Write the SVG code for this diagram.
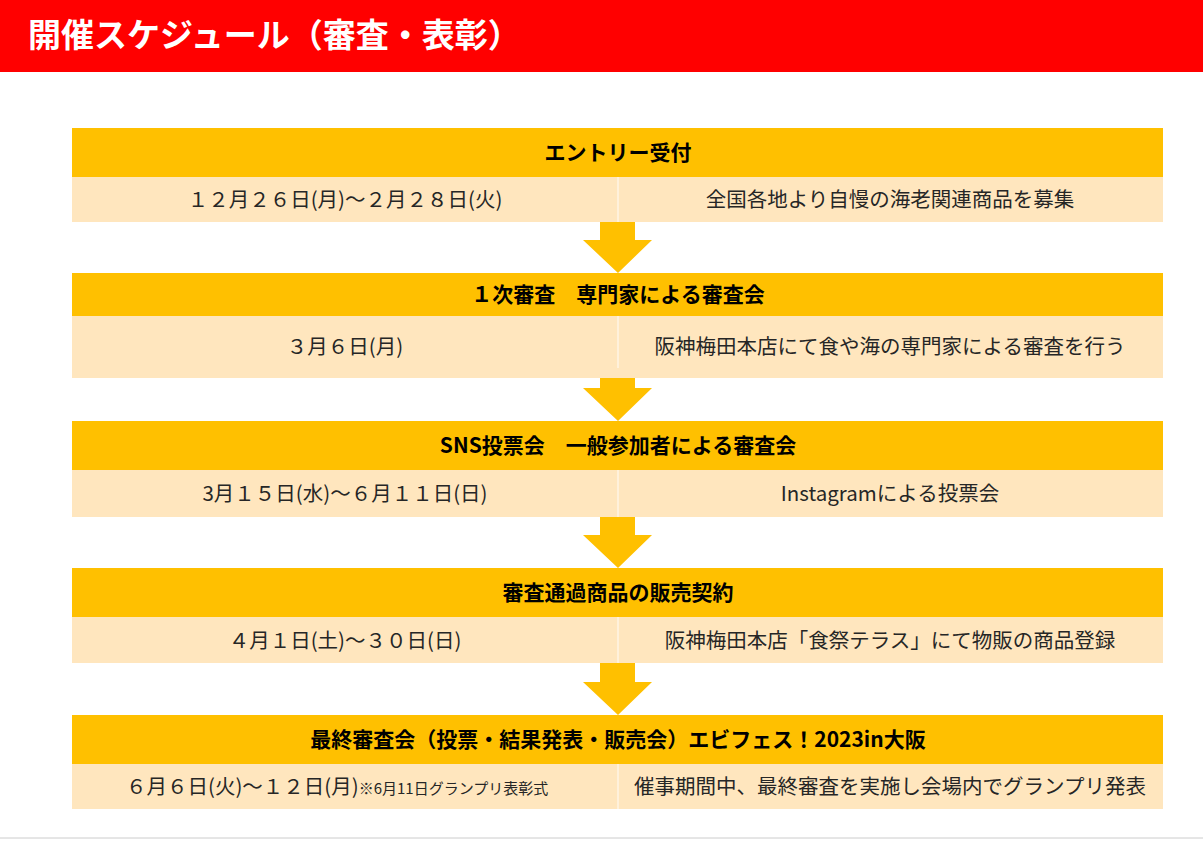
<svg xmlns="http://www.w3.org/2000/svg" width="1203" height="842" viewBox="0 0 1203 842">
<style>
text{font-family:"Noto Sans CJK JP","Noto Sans",sans-serif;fill:#262626}
.h{font-size:21px;font-weight:bold;text-anchor:middle;fill:#000}
.r{font-size:20.5px;text-anchor:middle}
.hd{fill:#FFC000}
.rw{fill:#FFE6BE}
.ar{fill:#FFC000}
</style>
<rect width="1203" height="842" fill="#fff"/>
<rect x="0" y="0" width="1203" height="72" fill="#FF0000"/>
<text x="28" y="47" style="font-size:33px;font-weight:bold;fill:#fff">開催スケジュール（審査・表彰）</text>
<line x1="0" y1="838" x2="1203" y2="838" stroke="#ccc" stroke-width="1"/>
<g id="connectors">
<polygon class="ar" points="600,222 635,222 635,240 652,240 618,273 583,240 600,240"/>
<polygon class="ar" points="600,370 635,370 635,388 652,388 618,421 583,388 600,388"/>
<polygon class="ar" points="600,517 635,517 635,535 652,535 618,568 583,535 600,535"/>
<polygon class="ar" points="600,663 635,663 635,682 652,682 618,715 583,682 600,682"/>
</g>
<g id="n1">
<rect class="hd" x="72" y="128" width="1091" height="49"/>
<rect class="rw" x="72" y="177" width="1091" height="45"/>
<line x1="618" y1="177" x2="618" y2="222" stroke="#fff" stroke-width="1.5" opacity="0.6"/>
<text class="h" x="618" y="160">エントリー受付</text>
<text class="r" x="345" y="207">１２月２６日(月)～２月２８日(火)</text>
<text class="r" x="890" y="207">全国各地より自慢の海老関連商品を募集</text>
</g>
<g id="n2">
<rect class="hd" x="72" y="273" width="1091" height="43"/>
<rect class="rw" x="72" y="316" width="1091" height="62"/>
<line x1="618" y1="316" x2="618" y2="368" stroke="#fff" stroke-width="1.5" opacity="0.6"/>
<text class="h" x="618" y="302">１次審査　専門家による審査会</text>
<text class="r" x="345" y="354">３月６日(月)</text>
<text class="r" x="890" y="354">阪神梅田本店にて食や海の専門家による審査を行う</text>
</g>
<g id="n3">
<rect class="hd" x="72" y="421" width="1091" height="49"/>
<rect class="rw" x="72" y="470" width="1091" height="47"/>
<line x1="618" y1="470" x2="618" y2="517" stroke="#fff" stroke-width="1.5" opacity="0.6"/>
<text class="h" x="618" y="453">SNS投票会　一般参加者による審査会</text>
<text class="r" x="345" y="501">3月１５日(水)～６月１１日(日)</text>
<text class="r" x="890" y="501">Instagramによる投票会</text>
</g>
<g id="n4">
<rect class="hd" x="72" y="568" width="1091" height="49"/>
<rect class="rw" x="72" y="617" width="1091" height="46"/>
<line x1="618" y1="617" x2="618" y2="663" stroke="#fff" stroke-width="1.5" opacity="0.6"/>
<text class="h" x="618" y="600">審査通過商品の販売契約</text>
<text class="r" x="345" y="648">４月１日(土)～３０日(日)</text>
<text class="r" x="890" y="648">阪神梅田本店「食祭テラス」にて物販の商品登録</text>
</g>
<g id="n5">
<rect class="hd" x="72" y="715" width="1091" height="49"/>
<rect class="rw" x="72" y="764" width="1091" height="45"/>
<line x1="618" y1="764" x2="618" y2="809" stroke="#fff" stroke-width="1.5" opacity="0.6"/>
<text class="h" x="618" y="747">最終審査会（投票・結果発表・販売会）エビフェス！2023in大阪</text>
<text x="126" y="794" style="font-size:20.5px">６月６日(火)～１２日(月)<tspan style="font-size:15px">※6月11日グランプリ表彰式</tspan></text>
<text class="r" x="890" y="794">催事期間中、最終審査を実施し会場内でグランプリ発表</text>
</g>
</svg>
